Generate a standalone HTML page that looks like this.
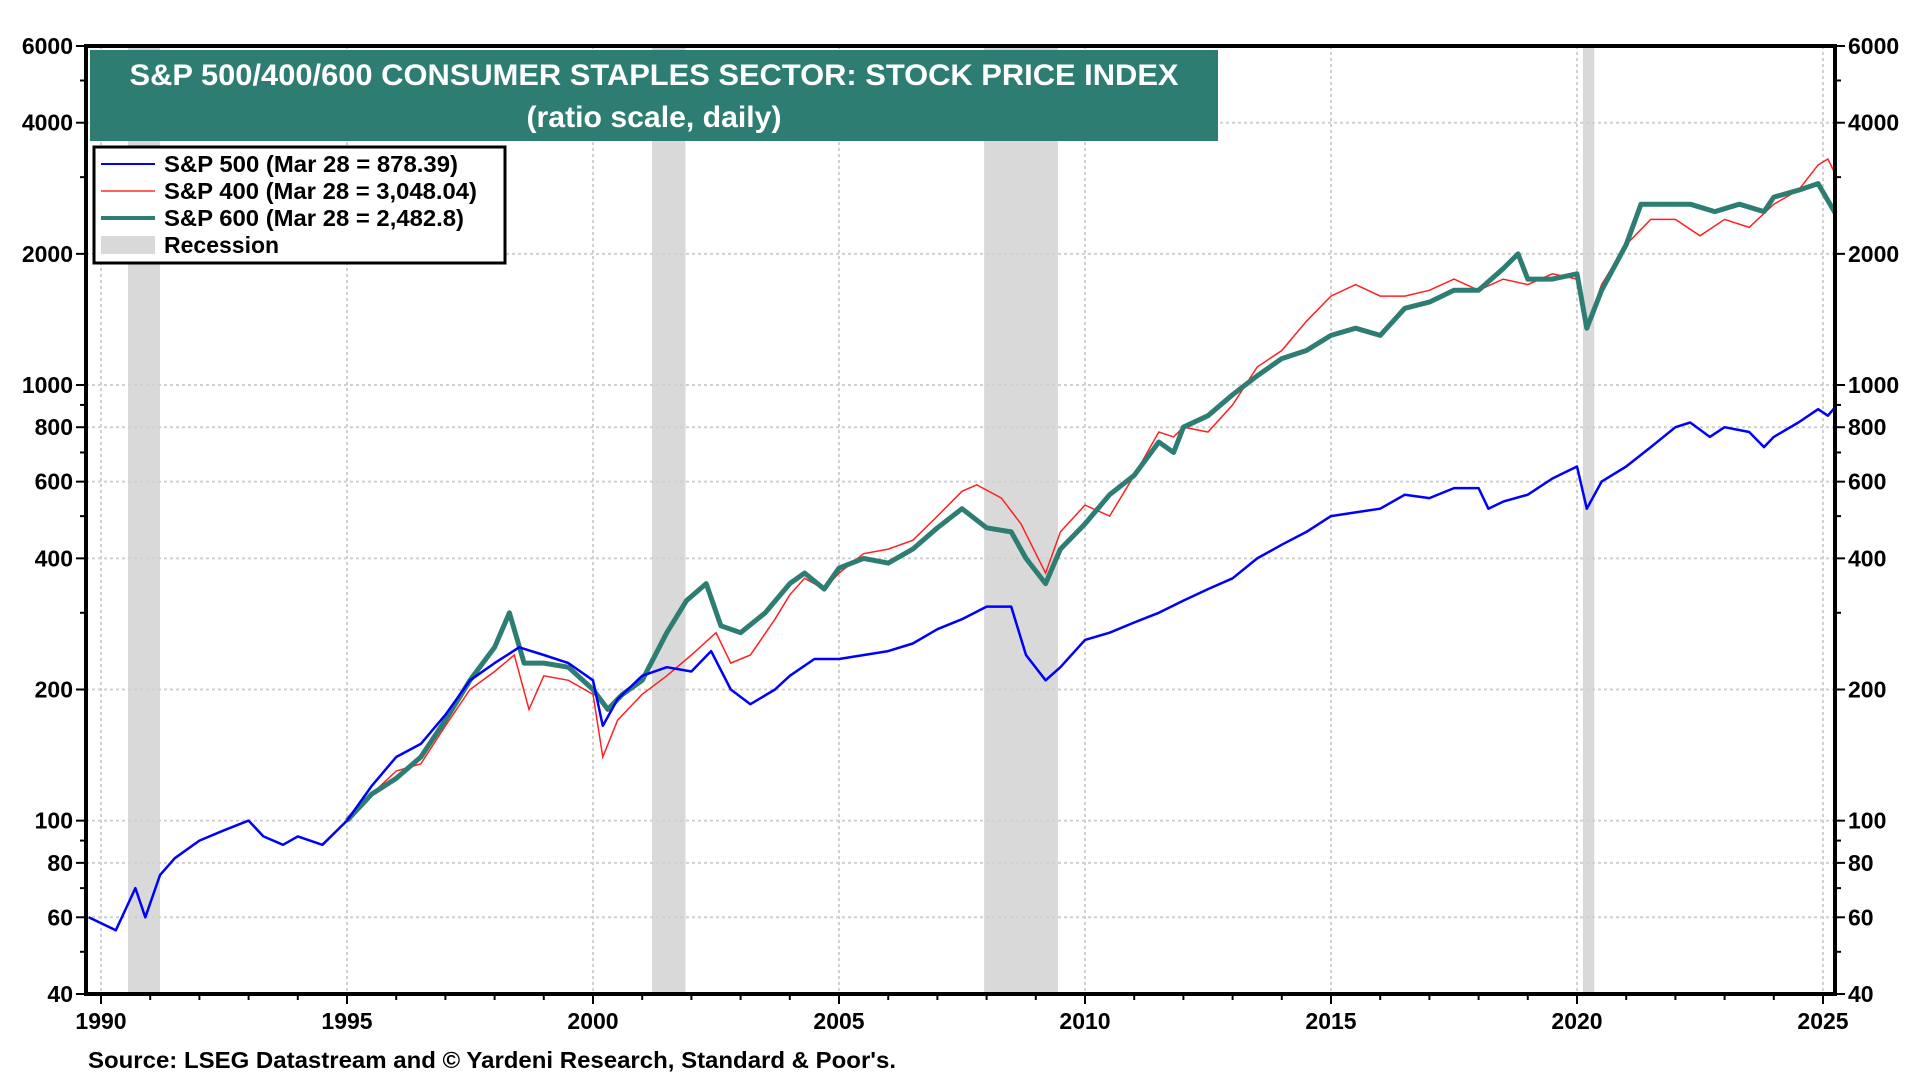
<!DOCTYPE html>
<html><head><meta charset="utf-8"><style>
html,body{margin:0;padding:0;background:#fff;width:1920px;height:1080px;overflow:hidden;font-family:"Liberation Sans",Arial,sans-serif}
</style></head><body>
<svg id="chart" width="1920" height="1080" xmlns="http://www.w3.org/2000/svg" font-family="Liberation Sans, Arial, sans-serif">
<g id="rec"></g>
<g id="grid"></g>
<g id="series"></g>
<g id="axes"></g>
<g>
<rect x="90" y="50" width="1128" height="91" fill="#2e7d72"/>
<text x="654" y="85" text-anchor="middle" fill="#fff" font-size="30" font-weight="bold" textLength="1049" lengthAdjust="spacingAndGlyphs">S&amp;P 500/400/600 CONSUMER STAPLES SECTOR: STOCK PRICE INDEX</text>
<text x="654" y="127" text-anchor="middle" fill="#fff" font-size="30" font-weight="bold" textLength="255" lengthAdjust="spacingAndGlyphs">(ratio scale, daily)</text>
</g>
<g>
<rect x="94" y="147" width="411" height="116" fill="#fff" stroke="#000" stroke-width="3"/>
<line x1="101" y1="164" x2="155" y2="164" stroke="#0000ff" stroke-width="2"/>
<text x="164" y="172" font-size="23" font-weight="bold" textLength="294" lengthAdjust="spacingAndGlyphs">S&amp;P 500 (Mar 28 = 878.39)</text>
<line x1="101" y1="191" x2="155" y2="191" stroke="#ff6060" stroke-width="2"/>
<text x="164" y="199" font-size="23" font-weight="bold" textLength="313" lengthAdjust="spacingAndGlyphs">S&amp;P 400 (Mar 28 = 3,048.04)</text>
<line x1="101" y1="218" x2="155" y2="218" stroke="#2e7d72" stroke-width="4"/>
<text x="164" y="226" font-size="23" font-weight="bold" textLength="300" lengthAdjust="spacingAndGlyphs">S&amp;P 600 (Mar 28 = 2,482.8)</text>
<rect x="101" y="236" width="54" height="18" fill="#d9d9d9"/>
<text x="164" y="253" font-size="23" font-weight="bold">Recession</text>
</g>
<text x="88" y="1068" font-size="23" font-weight="bold" textLength="808" lengthAdjust="spacingAndGlyphs">Source: LSEG Datastream and © Yardeni Research, Standard &amp; Poor's.</text>
</svg>
<script>
const recessionStarts=[1990.55,2001.2,2007.95,2020.12];
const recessionEnds=[1991.2,2001.88,2009.45,2020.35];
const yTicks=[40,60,80,100,200,400,600,800,1000,2000,4000,6000];
const xTicks=[1990,1995,2000,2005,2010,2015,2020,2025];
const sp500Dates=[1989.75,1990.3,1990.7,1990.9,1991.2,1991.5,1992,1992.5,1993,1993.3,1993.7,1994,1994.5,1995,1995.5,1996,1996.5,1997,1997.5,1998,1998.5,1999,1999.5,2000,2000.2,2000.5,2001,2001.5,2002,2002.4,2002.8,2003.2,2003.7,2004,2004.5,2005,2006,2006.5,2007,2007.5,2008,2008.5,2008.8,2009.2,2009.5,2010,2010.5,2011,2011.5,2012,2012.5,2013,2013.5,2014,2014.5,2015,2015.5,2016,2016.5,2017,2017.5,2018,2018.2,2018.5,2019,2019.5,2020,2020.2,2020.5,2021,2021.5,2022,2022.3,2022.7,2023,2023.5,2023.8,2024,2024.5,2024.9,2025.1,2025.25];
const sp500Values=[60,56,70,60,75,82,90,95,100,92,88,92,88,100,120,140,150,175,210,230,250,240,230,210,165,190,215,225,220,245,200,185,200,215,235,235,245,255,275,290,310,310,240,210,225,260,270,285,300,320,340,360,400,430,460,500,510,520,560,550,580,580,520,540,560,610,650,520,600,650,720,800,820,760,800,780,720,760,820,880,850,890];
const sp400Dates=[1995,1995.5,1996,1996.5,1997,1997.5,1998,1998.4,1998.7,1999,1999.5,2000,2000.2,2000.5,2001,2001.5,2002,2002.5,2002.8,2003.2,2003.7,2004,2004.3,2004.7,2005,2005.5,2006,2006.5,2007,2007.5,2007.8,2008.3,2008.7,2009.2,2009.5,2010,2010.5,2011,2011.5,2011.8,2012,2012.5,2013,2013.5,2014,2014.5,2015,2015.5,2016,2016.5,2017,2017.5,2018,2018.5,2019,2019.5,2020,2020.2,2020.5,2021,2021.5,2022,2022.5,2023,2023.5,2024,2024.5,2024.9,2025.1,2025.25];
const sp400Values=[100,115,130,135,165,200,220,240,180,215,210,195,140,170,195,215,240,270,230,240,290,330,360,340,370,410,420,440,500,570,590,550,480,370,460,530,500,620,780,760,800,780,900,1100,1200,1400,1600,1700,1600,1600,1650,1750,1650,1750,1700,1800,1750,1350,1700,2100,2400,2400,2200,2400,2300,2600,2800,3200,3300,3050];
const sp600Dates=[1995,1995.5,1996,1996.5,1997,1997.5,1998,1998.3,1998.6,1999,1999.5,2000,2000.3,2000.6,2001,2001.5,2001.9,2002.3,2002.6,2003,2003.5,2004,2004.3,2004.7,2005,2005.5,2006,2006.5,2007,2007.5,2008,2008.5,2008.8,2009.2,2009.5,2010,2010.5,2011,2011.5,2011.8,2012,2012.5,2013,2013.5,2014,2014.5,2015,2015.5,2016,2016.5,2017,2017.5,2018,2018.5,2018.8,2019,2019.5,2020,2020.2,2020.5,2021,2021.3,2021.8,2022.3,2022.8,2023.3,2023.8,2024,2024.5,2024.9,2025.25];
const sp600Values=[100,115,125,140,170,210,250,300,230,230,225,200,180,195,210,270,320,350,280,270,300,350,370,340,380,400,390,420,470,520,470,460,400,350,420,480,560,620,740,700,800,850,950,1050,1150,1200,1300,1350,1300,1500,1550,1650,1650,1850,2000,1750,1750,1800,1350,1650,2100,2600,2600,2600,2500,2600,2500,2700,2800,2900,2480];

const L=86,R=1835,T=46,B=994,X0=1990,XPX=49.2,X0PX=101;
const DEC=(B-T)/Math.log10(6000/40);
function xs(t){return X0PX+(t-X0)*XPX;}
function ys(v){return T+(Math.log10(6000)-Math.log10(v))*DEC;}
const NS='http://www.w3.org/2000/svg';
function mk(tag,attrs,parent){const e=document.createElementNS(NS,tag);for(const k in attrs)e.setAttribute(k,attrs[k]);parent.appendChild(e);return e;}
const rec=document.getElementById('rec'),grid=document.getElementById('grid'),ser=document.getElementById('series'),ax=document.getElementById('axes');
for(let i=0;i<recessionStarts.length;i++){
  const r=mk('rect',{x:xs(recessionStarts[i]),y:T,width:xs(recessionEnds[i])-xs(recessionStarts[i]),height:B-T,fill:'#d9d9d9'},rec);
  
  
}
for(const v of yTicks){
  const y=ys(v);
  if(v!==40&&v!==6000){const g=mk('line',{x1:L,x2:R,y1:y,y2:y,stroke:'#d0d0d0','stroke-width':2,'stroke-dasharray':'3,3'},grid);
  
  }
  for(const side of [0,1]){
    const tx=mk('text',{x:side?R+13:L-13,y:y+8,'text-anchor':side?'start':'end','font-size':23,'font-weight':'bold'},ax);
    tx.textContent=v;
    
    
    mk('line',{x1:side?R:L-10,x2:side?R+10:L,y1:y,y2:y,stroke:'#000','stroke-width':2},ax);
  }
}
const minor=[50,70,90,300,500,700,900,3000,5000];
for(const v of minor){const y=ys(v);mk('line',{x1:L-6,x2:L,y1:y,y2:y,stroke:'#000','stroke-width':2},ax);mk('line',{x1:R,x2:R+6,y1:y,y2:y,stroke:'#000','stroke-width':2},ax);}
for(const t of xTicks){
  const x=xs(t);
  const g=mk('line',{x1:x,x2:x,y1:T,y2:B,stroke:'#d0d0d0','stroke-width':2,'stroke-dasharray':'3,3'},grid);
  
  
  const tx=mk('text',{x:x,y:B+35,'text-anchor':'middle','font-size':23,'font-weight':'bold'},ax);
  tx.textContent=t;
  
  
  mk('line',{x1:x,x2:x,y1:B,y2:B+10,stroke:'#000','stroke-width':2},ax);
}
for(let t=1990;t<=2025;t++){const x=xs(t);mk('line',{x1:x,x2:x,y1:B,y2:B+6,stroke:'#000','stroke-width':2},ax);}
function path(d,v){return d.map((t,i)=>(i?'L':'M')+xs(t).toFixed(1)+','+ys(v[i]).toFixed(1)).join('');}
const p4=mk('path',{d:path(sp400Dates,sp400Values),fill:'none',stroke:'#ff2020','stroke-width':1.5},ser);


const p6=mk('path',{d:path(sp600Dates,sp600Values),fill:'none',stroke:'#2e7d72','stroke-width':5,'stroke-linejoin':'round'},ser);


const p5=mk('path',{d:path(sp500Dates,sp500Values),fill:'none',stroke:'#0000ff','stroke-width':2.5,'stroke-linejoin':'round'},ser);


const fr=mk('rect',{x:L,y:T,width:R-L,height:B-T,fill:'none',stroke:'#000','stroke-width':4},ax);


</script>
</body></html>
